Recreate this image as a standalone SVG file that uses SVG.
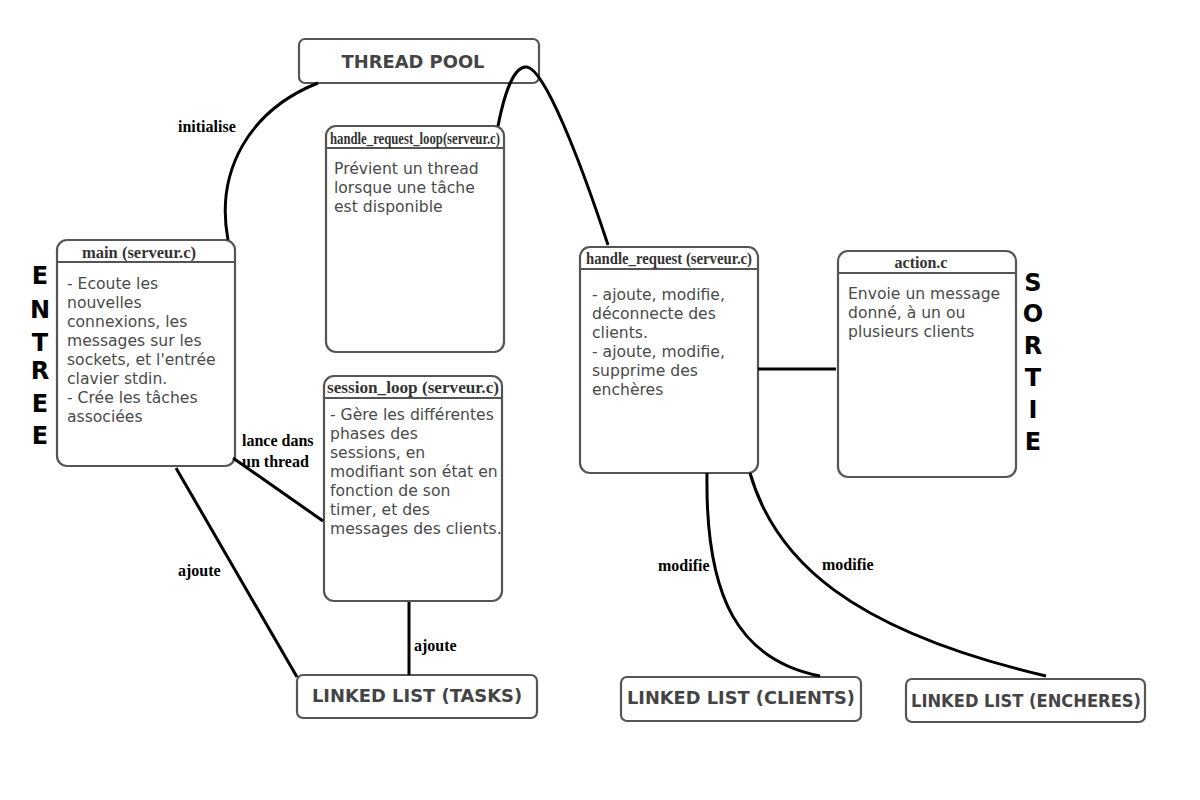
<svg xmlns="http://www.w3.org/2000/svg" width="1200" height="800" viewBox="0 0 1200 800">
<style>
.box{fill:#fff;stroke:#555;stroke-width:2.2}
.hl{stroke:#555;stroke-width:2.2}
.btxt{font-family:"DejaVu Sans",sans-serif;font-weight:bold;font-size:17.9px;fill:#444;text-anchor:middle}
.ttl{font-family:"Liberation Serif","DejaVu Serif",serif;font-weight:bold;font-size:16px;fill:#333;text-anchor:middle}
.body{font-family:"DejaVu Sans",sans-serif;font-size:15.6px;fill:#4a4a4a}
.lbl{font-family:"Liberation Serif",serif;font-weight:bold;font-size:16px;fill:#000}
.big{font-family:"DejaVu Sans",sans-serif;font-weight:bold;font-size:24px;fill:#000;text-anchor:middle}
.con{fill:none;stroke:#000;stroke-width:3}
</style>
<rect width="1200" height="800" fill="#fff"/>
<g id="thread_pool">
<rect class="box" x="299" y="39" width="240" height="44" rx="6"/>
<text class="btxt" x="413" y="68">THREAD POOL</text>
</g>
<g id="handle_request_loop">
<rect class="box" x="326" y="126" width="178" height="226" rx="10"/>
<line class="hl" x1="326" y1="148" x2="504" y2="148"/>
<text class="ttl" x="415" y="144" textLength="170" lengthAdjust="spacingAndGlyphs">handle_request_loop(serveur.c)</text>
<text class="body" x="334" y="174">Prévient un thread</text>
<text class="body" x="334" y="193">lorsque une tâche</text>
<text class="body" x="334" y="212">est disponible</text>
</g>
<g id="main">
<rect class="box" x="57" y="240" width="178" height="226" rx="10"/>
<line class="hl" x1="57" y1="262" x2="235" y2="262"/>
<text class="ttl" x="139" y="258" textLength="114" lengthAdjust="spacingAndGlyphs">main (serveur.c)</text>
<text class="body" x="67" y="289">- Ecoute les</text>
<text class="body" x="67" y="308">nouvelles</text>
<text class="body" x="67" y="327">connexions, les</text>
<text class="body" x="67" y="346">messages sur les</text>
<text class="body" x="67" y="365">sockets, et l'entrée</text>
<text class="body" x="67" y="384">clavier stdin.</text>
<text class="body" x="67" y="403">- Crée les tâches</text>
<text class="body" x="67" y="422">associées</text>
</g>
<g id="session_loop">
<rect class="box" x="324" y="376" width="178" height="225" rx="10"/>
<line class="hl" x1="324" y1="398" x2="502" y2="398"/>
<text class="ttl" x="413" y="393" textLength="172" lengthAdjust="spacingAndGlyphs">session_loop (serveur.c)</text>
<text class="body" x="330" y="420">- Gère les différentes</text>
<text class="body" x="330" y="439">phases des</text>
<text class="body" x="330" y="458">sessions, en</text>
<text class="body" x="330" y="477">modifiant son état en</text>
<text class="body" x="330" y="496">fonction de son</text>
<text class="body" x="330" y="515">timer, et des</text>
<text class="body" x="330" y="534">messages des clients.</text>
</g>
<g id="handle_request">
<rect class="box" x="580" y="247" width="178" height="226" rx="10"/>
<line class="hl" x1="580" y1="269" x2="758" y2="269"/>
<text class="ttl" x="669" y="264" textLength="166" lengthAdjust="spacingAndGlyphs">handle_request (serveur.c)</text>
<text class="body" x="592" y="300">- ajoute, modifie,</text>
<text class="body" x="592" y="319">déconnecte des</text>
<text class="body" x="592" y="338">clients.</text>
<text class="body" x="592" y="357">- ajoute, modifie,</text>
<text class="body" x="592" y="376">supprime des</text>
<text class="body" x="592" y="395">enchères</text>
</g>
<g id="action">
<rect class="box" x="838" y="251" width="178" height="226" rx="10"/>
<line class="hl" x1="838" y1="273" x2="1016" y2="273"/>
<text class="ttl" x="921" y="268">action.c</text>
<text class="body" x="848" y="299">Envoie un message</text>
<text class="body" x="848" y="318">donné, à un ou</text>
<text class="body" x="848" y="337">plusieurs clients</text>
</g>
<g id="ll_tasks">
<rect class="box" x="297" y="675" width="240" height="43" rx="6"/>
<text class="btxt" x="417" y="702">LINKED LIST (TASKS)</text>
</g>
<g id="ll_clients">
<rect class="box" x="621" y="677" width="240" height="44" rx="6"/>
<text class="btxt" x="741" y="704" textLength="228" lengthAdjust="spacingAndGlyphs">LINKED LIST (CLIENTS)</text>
</g>
<g id="ll_encheres">
<rect class="box" x="906" y="679" width="239" height="43" rx="6"/>
<text class="btxt" x="1026" y="707" textLength="230" lengthAdjust="spacingAndGlyphs">LINKED LIST (ENCHERES)</text>
</g>
<g id="entree">
<text class="big" x="40" y="284">E</text>
<text class="big" x="40" y="318">N</text>
<text class="big" x="40" y="351">T</text>
<text class="big" x="40" y="379">R</text>
<text class="big" x="40" y="412">E</text>
<text class="big" x="40" y="444">E</text>
</g>
<g id="sortie">
<text class="big" x="1033" y="291">S</text>
<text class="big" x="1033" y="322">O</text>
<text class="big" x="1033" y="354">R</text>
<text class="big" x="1033" y="386">T</text>
<text class="big" x="1033" y="418">I</text>
<text class="big" x="1033" y="450">E</text>
</g>
<g id="connectors">
<path class="con" d="M318,83 C250,110 215,170 228,240"/>
<path class="con" d="M498,126 C505,90 515,65 527,67 C545,70 580,160 608,245"/>
<path class="con" d="M233,458 L323,521"/>
<path class="con" d="M176,468 L297,677"/>
<path class="con" d="M409,602 L409,675"/>
<path class="con" d="M758,369 L836,369"/>
<path class="con" d="M707,473 C705,600 740,660 820,676"/>
<path class="con" d="M750,473 C775,560 850,630 1046,676"/>
<text class="lbl" x="178" y="132">initialise</text>
<text class="lbl" x="242" y="446">lance dans</text>
<text class="lbl" x="242" y="467">un thread</text>
<text class="lbl" x="178" y="576">ajoute</text>
<text class="lbl" x="414" y="651">ajoute</text>
<text class="lbl" x="658" y="571">modifie</text>
<text class="lbl" x="822" y="570">modifie</text>
</g>
</svg>
